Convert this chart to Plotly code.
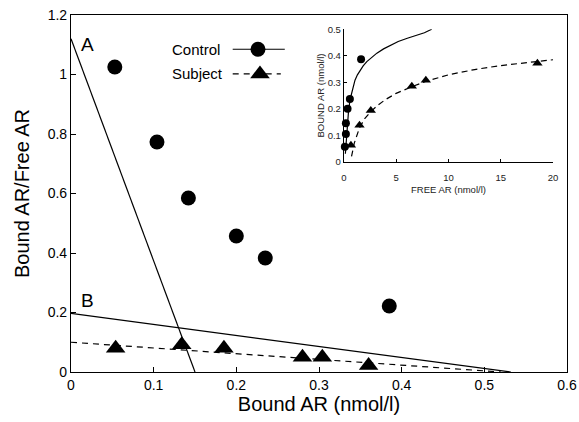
import plotly.graph_objects as go

# ---- main Scatchard plot data ----
control_bound = [0.053, 0.104, 0.142, 0.200, 0.235, 0.385]
control_ratio = [1.025, 0.773, 0.585, 0.457, 0.383, 0.222]
subject_bound = [0.054, 0.134, 0.185, 0.280, 0.304, 0.360]
subject_ratio = [0.080, 0.092, 0.080, 0.050, 0.050, 0.022]

# fitted lines: [x at y-intercept, x-intercept], [y-intercept, 0]
lineA_x = [0.0, 0.150]
lineA_y = [1.12, 0.0]
lineB_x = [0.0, 0.532]
lineB_y = [0.197, 0.0]
lineS_x = [0.0, 0.52]
lineS_y = [0.100, 0.0]

# ---- inset saturation data ----
in_ctrl_free = [0.1, 0.2, 0.2, 0.36, 0.58, 1.65]
in_ctrl_bound = [0.057, 0.105, 0.145, 0.200, 0.237, 0.387]
in_subj_free = [0.68, 1.5, 2.58, 6.5, 7.84, 18.5]
in_subj_bound = [0.062, 0.138, 0.193, 0.285, 0.308, 0.372]
curve_ctrl_free = [0.15, 0.3, 0.45, 0.6, 0.74, 0.9, 1.07, 1.3, 1.55, 1.85, 2.2, 2.65, 3.16, 3.8, 4.45, 5.2, 6.07, 6.9, 7.7, 8.4]
curve_ctrl_bound = [0.03, 0.12, 0.19, 0.235, 0.258, 0.285, 0.308, 0.328, 0.346, 0.362, 0.378, 0.394, 0.41, 0.426, 0.44, 0.454, 0.466, 0.477, 0.487, 0.5]
curve_subj_free = [0.74, 1.0, 1.5, 2.0, 2.6, 3.3, 4.0, 5.0, 6.5, 7.8, 10.0, 12.5, 15.0, 18.5, 20.0]
curve_subj_bound = [0.02, 0.07, 0.128, 0.163, 0.19, 0.215, 0.235, 0.258, 0.283, 0.303, 0.328, 0.348, 0.363, 0.378, 0.385]

xticks_main = [0, 0.1, 0.2, 0.3, 0.4, 0.5, 0.6]
xtick_labels_main = ["0", "0.1", "0.2", "0.3", "0.4", "0.5", "0.6"]
yticks_main = [0, 0.2, 0.4, 0.6, 0.8, 1.0, 1.2]
ytick_labels_main = ["0", "0.2", "0.4", "0.6", "0.8", "1", "1.2"]
xticks_in = [0, 5, 10, 15, 20]
yticks_in = [0, 0.1, 0.2, 0.3, 0.4, 0.5]
ytick_labels_in = ["0", "0.1", "0.2", "0.3", "0.4", "0.5"]

FONT = "Liberation Sans, Arial, Helvetica, sans-serif"
BLK = "black"
GRY = "#222"

fig = go.Figure()

# main plot
fig.add_trace(go.Scatter(x=lineA_x, y=lineA_y, mode="lines", line=dict(color=BLK, width=1.2),
                         showlegend=False))
fig.add_trace(go.Scatter(x=lineB_x, y=lineB_y, mode="lines", line=dict(color=BLK, width=1.2),
                         showlegend=False))
fig.add_trace(go.Scatter(x=lineS_x, y=lineS_y, mode="lines", line=dict(color=BLK, width=1.2, dash="6px,5px"),
                         showlegend=False))
fig.add_trace(go.Scatter(x=control_bound, y=control_ratio, mode="markers",
                         marker=dict(symbol="circle", size=15, color=BLK), showlegend=False,
                         cliponaxis=False))
fig.add_trace(go.Scatter(x=subject_bound, y=subject_ratio, mode="markers",
                         marker=dict(symbol="triangle-up", size=17, color=BLK), showlegend=False,
                         cliponaxis=False))

# inset
fig.add_trace(go.Scatter(x=curve_ctrl_free, y=curve_ctrl_bound, mode="lines", line=dict(color=BLK, width=1.2),
                         xaxis="x2", yaxis="y2", showlegend=False))
fig.add_trace(go.Scatter(x=curve_subj_free, y=curve_subj_bound, mode="lines",
                         line=dict(color=BLK, width=1.2, dash="6px,4px"),
                         xaxis="x2", yaxis="y2", showlegend=False))
fig.add_trace(go.Scatter(x=in_ctrl_free, y=in_ctrl_bound, mode="markers",
                         marker=dict(symbol="circle", size=8, color=BLK),
                         xaxis="x2", yaxis="y2", showlegend=False, cliponaxis=False))
fig.add_trace(go.Scatter(x=in_subj_free, y=in_subj_bound, mode="markers",
                         marker=dict(symbol="triangle-up", size=9, color=BLK),
                         xaxis="x2", yaxis="y2", showlegend=False, cliponaxis=False))

# legend on overlay axis (0..1)
fig.add_trace(go.Scatter(x=[0.326, 0.431], y=[0.904, 0.904], mode="lines", line=dict(color=BLK, width=1.2),
                         xaxis="x3", yaxis="y3", showlegend=False))
fig.add_trace(go.Scatter(x=[0.377], y=[0.904], mode="markers", marker=dict(symbol="circle", size=15, color=BLK),
                         xaxis="x3", yaxis="y3", showlegend=False))
fig.add_trace(go.Scatter(x=[0.326, 0.423], y=[0.835, 0.835], mode="lines",
                         line=dict(color=BLK, width=1.2, dash="6px,5px"),
                         xaxis="x3", yaxis="y3", showlegend=False))
fig.add_trace(go.Scatter(x=[0.381], y=[0.835], mode="markers", marker=dict(symbol="triangle-up", size=17, color=BLK),
                         xaxis="x3", yaxis="y3", showlegend=False))

ax_common = dict(showgrid=False, zeroline=False, linecolor=BLK, linewidth=1.2, ticks="inside",
                 tickcolor=BLK, ticklen=5, tickfont=dict(family=FONT, size=14, color=BLK), automargin=False)

fig.update_layout(
    width=579, height=422,
    margin=dict(l=71, r=12, t=15, b=50),
    plot_bgcolor="white", paper_bgcolor="white",
    font=dict(family=FONT, color=BLK),
    xaxis=dict(ax_common, range=[0, 0.6], tickvals=xticks_main, ticktext=xtick_labels_main, mirror=True,
               showline=True, title=dict(text="Bound AR (nmol/l)", font=dict(family=FONT, size=20), standoff=5)),
    yaxis=dict(ax_common, range=[0, 1.2], tickvals=yticks_main, ticktext=ytick_labels_main, mirror=True,
               showline=True, title=dict(text="Bound AR/Free AR", font=dict(family=FONT, size=20), standoff=12)),
    xaxis2=dict(showgrid=False, zeroline=False, showline=True, linecolor=BLK, linewidth=1, ticks="inside",
                ticklen=3, tickcolor=BLK, range=[0, 20], tickvals=xticks_in, domain=[0.55, 0.972],
                anchor="y2", tickfont=dict(family=FONT, size=9.5, color=GRY), automargin=False,
                ticklabelstandoff=7,
                title=dict(text="FREE AR (nmol/l)", font=dict(family=FONT, size=9.5, color=GRY), standoff=4)),
    yaxis2=dict(showgrid=False, zeroline=False, showline=True, linecolor=BLK, linewidth=1, ticks="inside",
                ticklen=3, tickcolor=BLK, range=[0, 0.5], tickvals=yticks_in, ticktext=ytick_labels_in,
                domain=[0.589, 0.960], anchor="x2", automargin=False,
                tickfont=dict(family=FONT, size=9.5, color=GRY),
                title=dict(text="BOUND AR (nmol/l)", font=dict(family=FONT, size=9.5, color=GRY), standoff=1)),
    xaxis3=dict(range=[0, 1], visible=False, anchor="y3", overlaying="x", automargin=False),
    yaxis3=dict(range=[0, 1], visible=False, anchor="x3", overlaying="y", automargin=False),
    annotations=[
        dict(x=0.304, y=0.904, xref="x3", yref="y3", text="Control", showarrow=False, xanchor="right",
             font=dict(family=FONT, size=15, color=BLK)),
        dict(x=0.310, y=0.835, xref="x3", yref="y3", text="Subject", showarrow=False, xanchor="right",
             font=dict(family=FONT, size=15, color=BLK)),
        dict(x=0.010, y=1.10, xref="x", yref="y", text="A", showarrow=False, xanchor="left",
             font=dict(family=FONT, size=19, color=BLK)),
        dict(x=0.010, y=0.24, xref="x", yref="y", text="B", showarrow=False, xanchor="left",
             font=dict(family=FONT, size=19, color=BLK)),
    ],
)

fig.write_html(
    "out.html",
    config={"displayModeBar": False},
    post_script=("document.documentElement.style.margin='0';document.body.style.margin='0';"
                 "document.documentElement.style.overflow='hidden';document.body.style.overflow='hidden';"),
)
